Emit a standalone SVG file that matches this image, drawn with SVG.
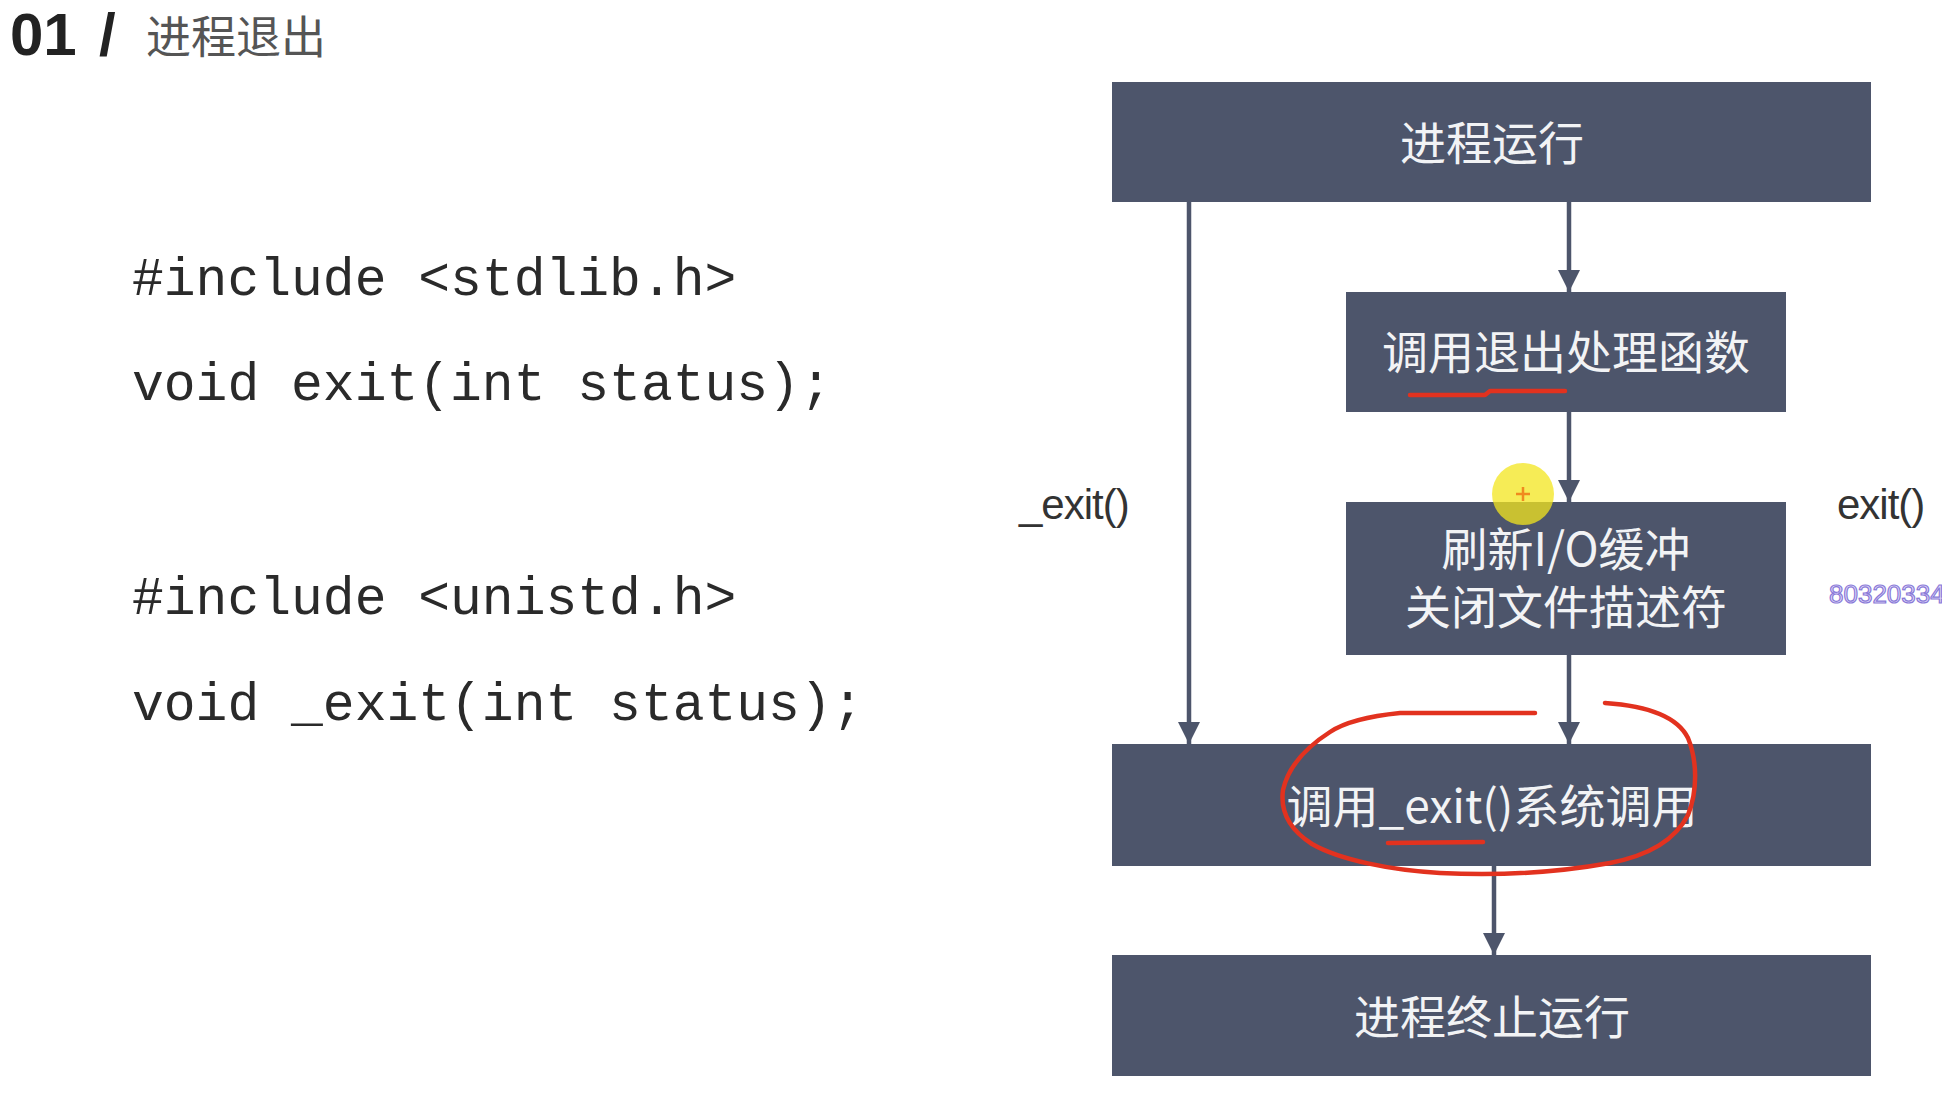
<svg xmlns="http://www.w3.org/2000/svg" width="1942" height="1110" viewBox="0 0 1942 1110">
<style>
.box{fill:#4d556b;}
.nt{font-family:"Noto Sans CJK SC","Liberation Sans",sans-serif;font-size:46px;fill:#f2f3f5;text-anchor:middle;dominant-baseline:central;}
.code{font-family:"Liberation Mono",monospace;font-size:53px;fill:#2a2a2a;}
.lbl{font-family:"Liberation Sans",sans-serif;font-size:42px;fill:#333;letter-spacing:-1px;dominant-baseline:central;}
.conn{stroke:#4d556b;stroke-width:4.5;fill:none;marker-end:url(#ah);}
.red{stroke:#e2321f;stroke-width:4.5;fill:none;stroke-linecap:round;stroke-linejoin:round;}
</style>
<defs>
<marker id="ah" markerUnits="userSpaceOnUse" markerWidth="24" markerHeight="24" viewBox="0 0 24 24" refX="22" refY="12" orient="auto">
<path d="M0,1 L22,12 L0,23 Z" fill="#4d556b"/>
</marker>
</defs>
<rect width="1942" height="1110" fill="#ffffff"/>

<g id="title">
<text x="10" y="55" font-family="Liberation Sans,sans-serif" font-size="60" font-weight="bold" fill="#222">01</text>
<text x="99" y="55" font-family="Liberation Sans,sans-serif" font-size="60" font-weight="bold" fill="#222">/</text>
<text x="146" y="34" font-family="Noto Sans CJK SC,sans-serif" font-size="45" fill="#555" dominant-baseline="central">进程退出</text>
</g>

<g id="code">
<text class="code" x="132" y="295">#include &lt;stdlib.h&gt;</text>
<text class="code" x="132" y="400" xml:space="preserve">void exit(int status);</text>
<text class="code" x="132" y="614">#include &lt;unistd.h&gt;</text>
<text class="code" x="132" y="720" xml:space="preserve">void _exit(int status);</text>
</g>

<g id="connectors">
<line class="conn" x1="1189" y1="202" x2="1189" y2="744"/>
<line class="conn" x1="1569" y1="202" x2="1569" y2="292"/>
<line class="conn" x1="1569" y1="412" x2="1569" y2="502"/>
<line class="conn" x1="1569" y1="655" x2="1569" y2="744"/>
<line class="conn" x1="1494" y1="866" x2="1494" y2="955"/>
</g>

<g id="n1">
<rect class="box" x="1112" y="82" width="759" height="120"/>
<text class="nt" x="1492" y="140">进程运行</text>
</g>
<g id="n2">
<rect class="box" x="1346" y="292" width="440" height="120"/>
<text class="nt" x="1566" y="349">调用退出处理函数</text>
</g>
<g id="n3">
<rect class="box" x="1346" y="502" width="440" height="153"/>
<text class="nt" x="1566" y="546">刷新I/O缓冲<tspan x="1566" dy="58">关闭文件描述符</tspan></text>
</g>
<g id="n4">
<rect class="box" x="1112" y="744" width="759" height="122"/>
<text class="nt" x="1492" y="803">调用_exit()系统调用</text>
</g>
<g id="n5">
<rect class="box" x="1112" y="955" width="759" height="121"/>
<text class="nt" x="1492" y="1014">进程终止运行</text>
</g>

<g id="labels">
<text class="lbl" x="1019" y="504">_exit()</text>
<text class="lbl" x="1837" y="504">exit()</text>
</g>

<g id="annotations">
<path class="red" d="M1410,395 L1485,395 L1490,391 L1565,391"/>
<path class="red" d="M1535,713 L1400,713 C1370,716 1345,722 1330,732 C1305,748 1288,768 1283,790 C1280,812 1290,830 1312,844 C1340,860 1390,870 1440,873 C1500,876 1560,872 1610,863 C1650,855 1675,840 1688,815 C1698,790 1697,760 1688,738 C1678,718 1650,706 1605,703"/>
<path class="red" d="M1388,843 L1483,842"/>
<circle cx="1523" cy="494" r="31" fill="#f3e61e" opacity="0.75"/>
<path d="M1516,494 H1530 M1523,487 V501" stroke="#f08a1e" stroke-width="2.5"/>
<text x="1829" y="603" font-family="Liberation Sans,sans-serif" font-size="26" fill="#e4defa" stroke="#8a7ad8" stroke-width="1.2">80320334</text>
</g>
</svg>
